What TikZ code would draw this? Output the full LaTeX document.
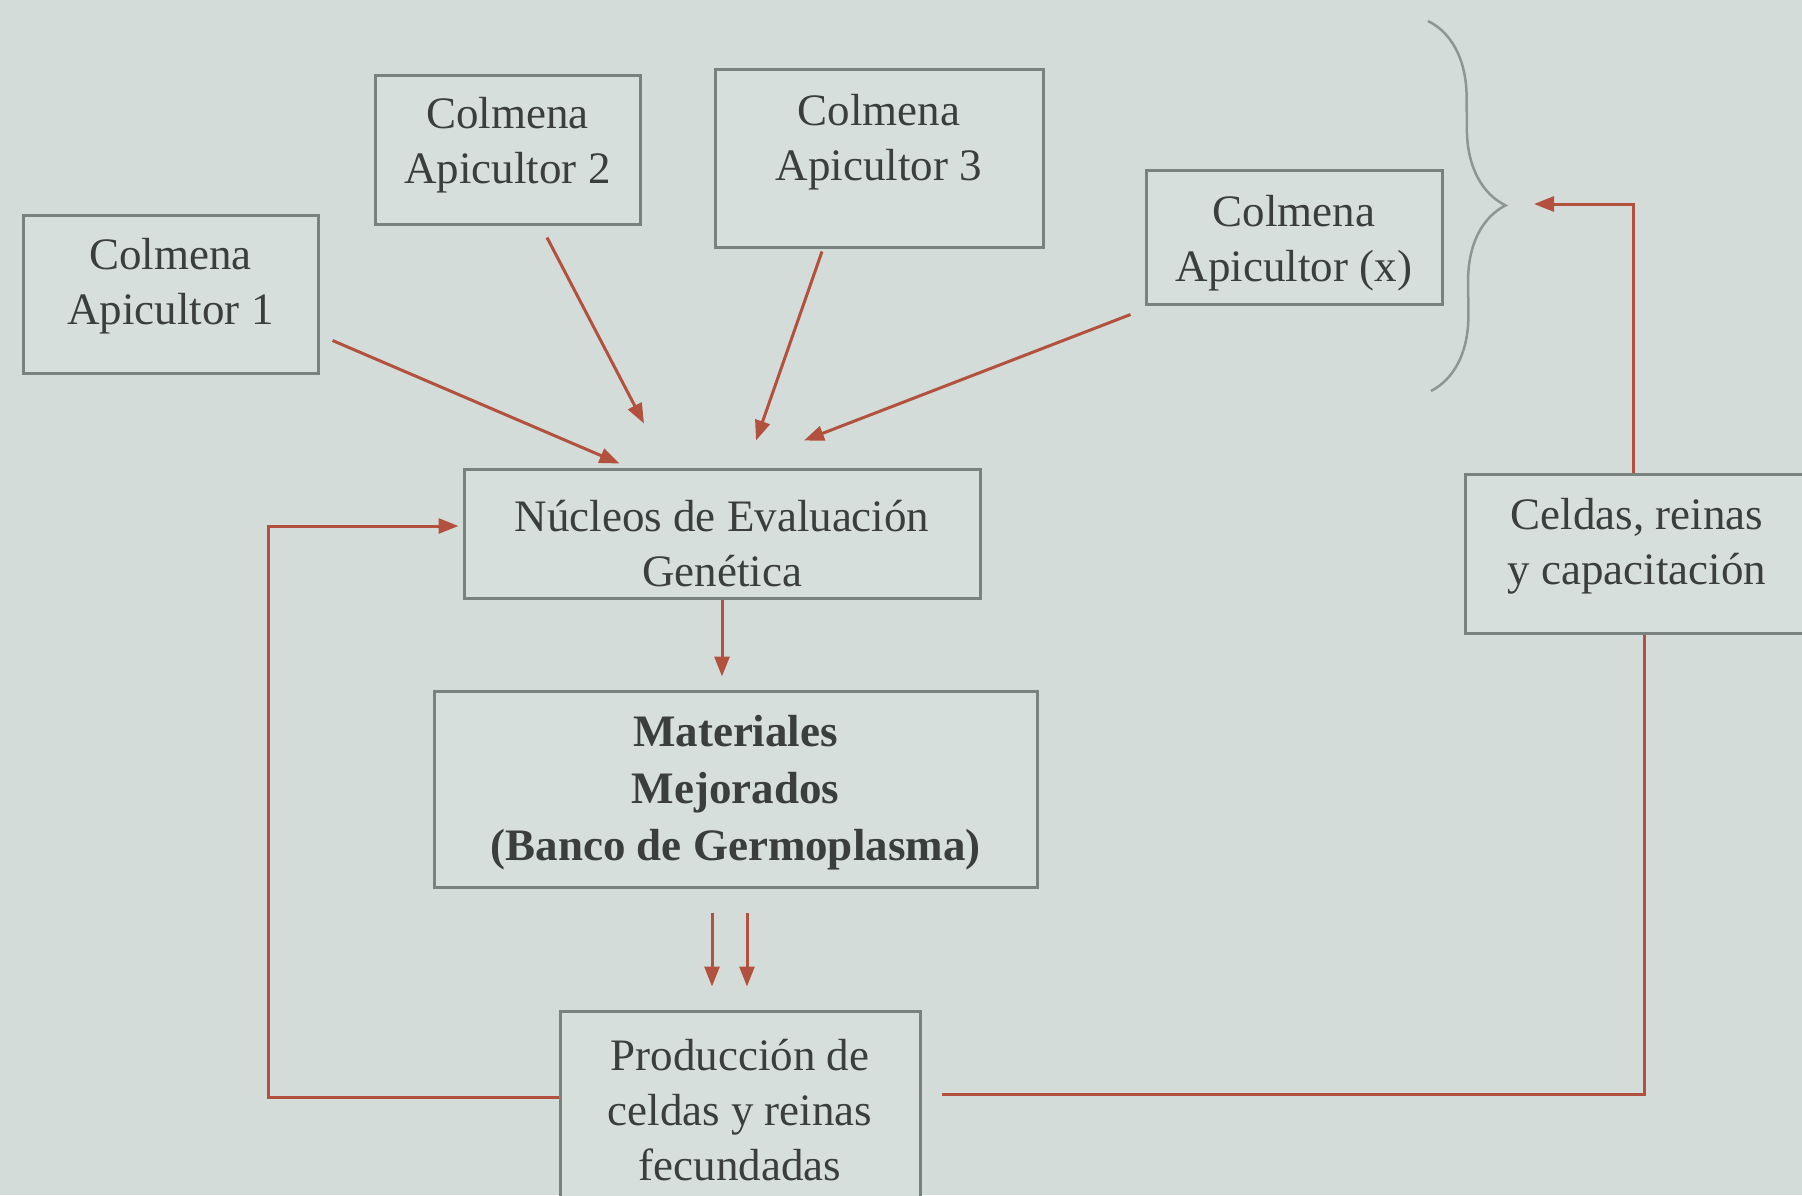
\documentclass[tikz,border=0pt]{standalone}
\usepackage{fontspec}
\setmainfont{Liberation Serif}
\usetikzlibrary{arrows.meta,decorations.pathreplacing}
\definecolor{bg}{RGB}{212,220,217}
\definecolor{boxfill}{RGB}{215,223,220}
\definecolor{boxline}{RGB}{120,130,127}
\definecolor{arrowred}{RGB}{178,82,62}
\definecolor{txtcol}{RGB}{58,63,61}
\definecolor{bracecol}{RGB}{140,150,147}
\begin{document}
\begin{tikzpicture}[x=1pt,y=-1pt,
  boxnode/.style={draw=boxline, line width=3pt, fill=boxfill, rectangle, inner sep=0pt},
  txt/.style={text=txtcol, align=center, font=\fontsize{45}{55}\selectfont, inner sep=0pt},
  arr/.style={draw=arrowred, line width=3pt, -{Triangle[length=20pt,width=15pt]}},
  conn/.style={draw=arrowred, line width=3pt},
]
\useasboundingbox (0,0) rectangle (1802,1195);
\clip (0,0) rectangle (1802,1195);
\fill[bg] (0,0) rectangle (1802,1195);

% boxes
\node[boxnode, minimum width=295pt, minimum height=158pt] (a1) at (170.5,294) {};
\node[txt] (a1t) at (170.5,286) {Colmena\\Apicultor 1};
\node[boxnode, minimum width=265pt, minimum height=149pt] (a2) at (507.5,149.5) {};
\node[txt] (a2t) at (507.5,145) {Colmena\\Apicultor 2};
\node[boxnode, minimum width=328pt, minimum height=178pt] (a3) at (879,158) {};
\node[txt] (a3t) at (879,142) {Colmena\\Apicultor 3};
\node[boxnode, minimum width=296pt, minimum height=134pt] (ax) at (1294,237) {};
\node[txt] (axt) at (1294,243) {Colmena\\Apicultor (x)};
\node[boxnode, minimum width=516pt, minimum height=129pt] (nuc) at (722,533.5) {};
\node[txt] (nuct) at (722,544) {Núcleos de Evaluación\\Genética};
\node[boxnode, minimum width=603pt, minimum height=196pt] (mat) at (735.5,789) {};
\node[txt, font=\fontsize{45}{57}\selectfont\bfseries] (matt) at (735.5,793) {Materiales\\Mejorados\\(Banco de Germoplasma)};
\node[boxnode, minimum width=360pt, minimum height=220pt] (prod) at (740,1121) {};
\node[txt] (prodt) at (740,1110) {Producción de\\celdas y reinas\\fecundadas};
\node[boxnode, minimum width=344pt, minimum height=159pt] (cel) at (1637,553.5) {};
\node[txt] (celt) at (1637,546) {Celdas, reinas\\y capacitación};

% brace
\draw[bracecol, line width=2.5pt, decorate, decoration={brace, amplitude=76pt}] (1428,21) -- (1431,391);
\coordinate (brtip) at (1534,204);

% arrows into Nucleos
\draw[arr] ([xshift=13pt,yshift=34pt]a1.south east) -- ([xshift=157pt,yshift=4pt]nuc.north west);
\draw[arr] ([xshift=39.5pt,yshift=-12pt]a2.south) -- ([xshift=-78pt,yshift=44pt]nuc.north);
\draw[arr] ([xshift=-57pt,yshift=-3pt]a3.south) -- ([xshift=34pt,yshift=27pt]nuc.north);
\draw[arr] ([xshift=-14pt,yshift=-9pt]ax.south west) -- ([xshift=82pt,yshift=27pt]nuc.north);

% down arrows
\draw[arr, shorten >=13pt] (nuc.south) -- (nuc.south |- mat.north);
\draw[arr] ([xshift=-23.5pt,yshift=-24pt]mat.south) -- ([xshift=-28pt,yshift=23pt]prod.north);
\draw[arr] ([xshift=11.5pt,yshift=-24pt]mat.south) -- ([xshift=7pt,yshift=23pt]prod.north);

% feedback loops
\draw[arr] ([yshift=24pt]prod.west) -- ++(-290,0) |- ([xshift=-4pt,yshift=7.5pt]nuc.west);
\draw[conn] ([xshift=20pt,yshift=27pt]prod.east) -| ([xshift=7pt]cel.south);
\draw[arr] ([xshift=-4pt]cel.north) |- (brtip);
\end{tikzpicture}
\end{document}
